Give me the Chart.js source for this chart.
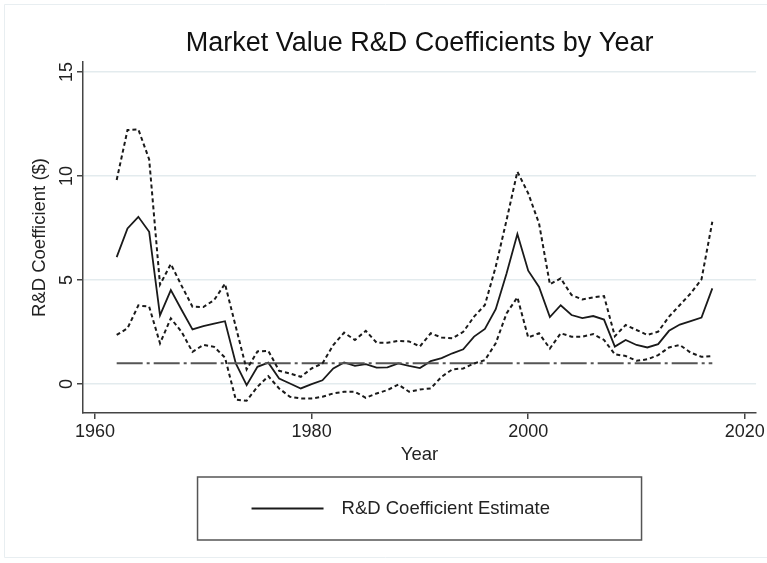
<!DOCTYPE html>
<html>
<head>
<meta charset="utf-8">
<script src="https://cdn.jsdelivr.net/npm/chart.js@4.4.0/dist/chart.umd.min.js"></script>
<style>
    html, body { margin: 0; padding: 0; background: #fff; }
    #wrap { width: 767px; height: 563px; }
</style>
</head>
<body>
<div id="wrap"><canvas id="rdChart" width="767" height="563"></canvas></div>
<script>
// values
const years = [1962, 1963, 1964, 1965, 1966, 1967, 1968, 1969, 1970, 1971,
    1972, 1973, 1974, 1975, 1976, 1977, 1978, 1979, 1980, 1981,
    1982, 1983, 1984, 1985, 1986, 1987, 1988, 1989, 1990, 1991,
    1992, 1993, 1994, 1995, 1996, 1997, 1998, 1999, 2000, 2001,
    2002, 2003, 2004, 2005, 2006, 2007, 2008, 2009, 2010, 2011,
    2012, 2013, 2014, 2015, 2016, 2017];

const estimate = [6.1, 7.48, 8.04, 7.32, 3.3, 4.52, 3.56, 2.63, 2.79, 2.9,
    3.02, 0.99, -0.05, 0.83, 1.03, 0.27, 0.03, -0.21, 0.0, 0.18,
    0.75, 1.04, 0.88, 0.96, 0.79, 0.8, 0.99, 0.87, 0.77, 1.1,
    1.25, 1.48, 1.67, 2.28, 2.65, 3.6, 5.32, 7.21, 5.45, 4.67,
    3.22, 3.79, 3.32, 3.17, 3.27, 3.1, 1.8, 2.12, 1.88, 1.76,
    1.92, 2.56, 2.86, 3.03, 3.2, 4.6];

const upperCI = [9.81, 12.21, 12.24, 10.8, 4.78, 5.77, 4.72, 3.72, 3.7, 4.04,
    4.82, 2.75, 0.7, 1.57, 1.6, 0.64, 0.51, 0.35, 0.75, 0.99,
    1.88, 2.47, 2.12, 2.56, 1.99, 1.99, 2.08, 2.05, 1.81, 2.44,
    2.24, 2.2, 2.51, 3.24, 3.8, 5.64, 7.88, 10.21, 9.17, 7.72,
    4.8, 5.08, 4.28, 4.07, 4.17, 4.23, 2.3, 2.84, 2.6, 2.36,
    2.52, 3.24, 3.8, 4.36, 5.03, 7.8];

const lowerCI = [2.36, 2.68, 3.78, 3.72, 1.96, 3.16, 2.5, 1.55, 1.88, 1.79,
    1.27, -0.75, -0.8, -0.13, 0.38, -0.21, -0.61, -0.69, -0.69, -0.61,
    -0.45, -0.37, -0.37, -0.66, -0.45, -0.29, -0.02, -0.37, -0.26, -0.21,
    0.35, 0.71, 0.75, 0.99, 1.15, 1.96, 3.4, 4.17, 2.24, 2.44,
    1.71, 2.44, 2.28, 2.28, 2.4, 2.12, 1.43, 1.35, 1.12, 1.19,
    1.39, 1.76, 1.88, 1.51, 1.31, 1.35];

const refLevel = 1;   // dash-dot line at $1
const xTicks = [1960, 1980, 2000, 2020];
const yTicks = [0, 5, 10, 15];

const chartTitle = 'Market Value R&D Coefficients by Year';
const legendLabel = 'R&D Coefficient Estimate';

const fontFamily = '"Liberation Sans", Arial, Helvetica, sans-serif';
Chart.defaults.font.family = fontFamily;

function toPoints(values) {
    return years.map((yr, i) => ({ x: yr, y: values[i] }));
}

// faint outer frame (top, left, bottom only - right edge runs off the picture)
const framePlugin = {
    id: 'frame',
    beforeDraw(chart) {
        const ctx = chart.ctx;
        ctx.save();
        ctx.strokeStyle = '#e8eef1';
        ctx.lineWidth = 1;
        ctx.beginPath();
        ctx.moveTo(chart.width, 4.5);
        ctx.lineTo(4.5, 4.5);
        ctx.lineTo(4.5, 557.5);
        ctx.lineTo(chart.width, 557.5);
        ctx.stroke();
        ctx.restore();
    }
};

// title, rotated y labels and the legend box
const extrasPlugin = {
    id: 'extras',
    afterDraw(chart) {
        const ctx = chart.ctx;
        const area = chart.chartArea;
        const yScale = chart.scales.y;
        const cx = (area.left + area.right) / 2;
        ctx.save();

        ctx.fillStyle = '#111';
        ctx.textAlign = 'center';
        ctx.textBaseline = 'middle';
        ctx.font = '27px ' + fontFamily;
        ctx.fillText(chartTitle, cx, 44);

        ctx.fillStyle = '#222';
        ctx.font = '18px ' + fontFamily;
        yScale.ticks.forEach(t => {
            const py = yScale.getPixelForValue(t.value);
            ctx.save();
            ctx.translate(67, py);
            ctx.rotate(-Math.PI / 2);
            ctx.fillText(String(t.value), 0, 0);
            ctx.restore();
        });

        // legend
        const boxW = 444, boxTop = 477, boxH = 63;
        const boxLeft = cx - boxW / 2;
        ctx.strokeStyle = '#555';
        ctx.lineWidth = 1.5;
        ctx.strokeRect(boxLeft, boxTop, boxW, boxH);
        const midY = boxTop + boxH / 2;
        ctx.strokeStyle = '#1a1a1a';
        ctx.lineWidth = 2;
        ctx.beginPath();
        ctx.moveTo(boxLeft + 54, midY);
        ctx.lineTo(boxLeft + 126, midY);
        ctx.stroke();
        ctx.textAlign = 'left';
        ctx.font = '18.5px ' + fontFamily;
        ctx.fillText(legendLabel, boxLeft + 144, midY);

        ctx.restore();
    }
};

const ctx = document.getElementById('rdChart').getContext('2d');
new Chart(ctx, {
    type: 'line',
    data: {
        datasets: [
            {
                label: 'Upper',
                data: toPoints(upperCI),
                borderColor: '#1a1a1a',
                borderWidth: 2,
                borderDash: [4, 3],
                pointRadius: 0,
                fill: false
            },
            {
                label: 'Lower',
                data: toPoints(lowerCI),
                borderColor: '#1a1a1a',
                borderWidth: 2,
                borderDash: [4, 3],
                pointRadius: 0,
                fill: false
            },
            {
                label: 'Reference',
                data: years.map(yr => ({ x: yr, y: refLevel })),
                borderColor: '#555',
                borderWidth: 2,
                borderDash: [26, 4, 3, 4],
                pointRadius: 0,
                fill: false
            },
            {
                label: legendLabel,
                data: toPoints(estimate),
                borderColor: '#1a1a1a',
                borderWidth: 1.8,
                pointRadius: 0,
                fill: false
            }
        ]
    },
    options: {
        responsive: false,
        animation: false,
        devicePixelRatio: 1,
        layout: { padding: { left: 0, right: 10, top: 62, bottom: 97 } },
        plugins: {
            legend: { display: false },
            title: { display: false },
            tooltip: { enabled: false }
        },
        scales: {
            x: {
                type: 'linear',
                min: 1958.89,
                max: 2021.04,
                afterBuildTicks: s => { s.ticks = xTicks.map(v => ({ value: v })); },
                afterFit: s => { s.height = 53; },
                ticks: {
                    color: '#222',
                    font: { size: 18 },
                    padding: 2,
                    maxRotation: 0,
                    callback: v => String(v)
                },
                grid: { drawOnChartArea: false, tickLength: 6, tickColor: '#444', lineWidth: 1.5 },
                border: { color: '#444', width: 1.5 },
                title: { display: true, text: 'Year', color: '#222', font: { size: 18.5 }, padding: { top: 0, bottom: 0 } }
            },
            y: {
                min: -1.39,
                max: 15.48,
                afterBuildTicks: s => { s.ticks = yTicks.map(v => ({ value: v })); },
                afterFit: s => { s.width = 83; },
                ticks: { display: false },
                grid: { color: '#e3ebee', lineWidth: 1.5, tickColor: '#444', tickLength: 6 },
                border: { color: '#444', width: 1.5 },
                title: { display: true, text: 'R&D Coefficient ($)', color: '#222', font: { size: 18.5 }, padding: { top: 29, bottom: 0 } }
            }
        }
    },
    plugins: [framePlugin, extrasPlugin]
});
</script>
</body>
</html>
